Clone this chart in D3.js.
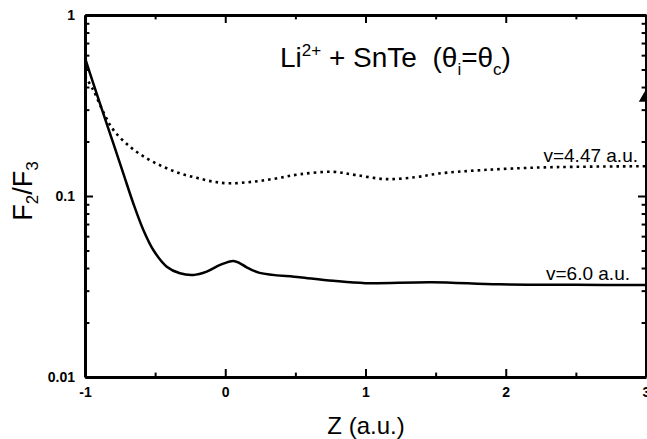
<!DOCTYPE html>
<html>
<head>
<meta charset="utf-8">
<script src="https://cdn.jsdelivr.net/npm/d3@7"></script>
<style>
  body { margin: 0; background: #fff; }
  svg { display: block; font-family: "Liberation Sans", Arial, Helvetica, sans-serif; }
</style>
</head>
<body>
<div id="chart"></div>
<script>
// v = 6.0 a.u. (solid)
var zSolid = [-1, -0.941, -0.87, -0.798, -0.727, -0.656, -0.584, -0.513, -0.417, -0.323, -0.228, -0.132, -0.037, 0.057, 0.105, 0.15, 0.245, 0.53, 0.77, 1.0, 1.47, 1.95, 2.5, 3.0];
var fSolid = [0.58, 0.419, 0.286, 0.1955, 0.1334, 0.0912, 0.0649, 0.0503, 0.0407, 0.0374, 0.0366, 0.0382, 0.0416, 0.0438, 0.0425, 0.0405, 0.0376, 0.0356, 0.034, 0.033, 0.0334, 0.0325, 0.0323, 0.0322];

// v = 4.47 a.u. (dotted)
var zDot = [-1, -0.941, -0.87, -0.798, -0.679, -0.56, -0.442, -0.323, -0.204, -0.085, 0.034, 0.2, 0.363, 0.536, 0.77, 0.93, 1.145, 1.357, 1.52, 1.83, 2.28, 3.0];
var fDot = [0.46, 0.385, 0.292, 0.232, 0.187, 0.1615, 0.145, 0.1334, 0.126, 0.120, 0.1175, 0.12, 0.125, 0.132, 0.136, 0.1306, 0.124, 0.127, 0.133, 0.139, 0.144, 0.146];

// single point (triangle)
var zPoint = [3.0];
var fPoint = [0.35];

var xMajor = [-1, 0, 1, 2, 3];
var xMinor = [-0.5, 0.5, 1.5, 2.5];
var yMajor = [0.01, 0.1, 1];
var yMinor = [0.02, 0.03, 0.04, 0.05, 0.06, 0.07, 0.08, 0.09,
              0.2, 0.3, 0.4, 0.5, 0.6, 0.7, 0.8, 0.9];

var width = 647, height = 439;
var mLeft = 85, mRight = 646, mTop = 15, mBottom = 377;

var x = d3.scaleLinear().domain([-1, 3]).range([mLeft, mRight]);
var y = d3.scaleLog().domain([0.01, 1]).range([mBottom, mTop]);

var svg = d3.select('#chart').append('svg')
    .attr('width', width)
    .attr('height', height);

function fmtY(d) { return yMajor.indexOf(d) >= 0 ? String(d) : ''; }
function fmtX(d) { return xMajor.indexOf(d) >= 0 ? String(d) : ''; }

function styleAxis(g, majors) {
  g.select('.domain').attr('stroke', '#000').attr('stroke-width', 3);
  g.selectAll('.tick line').attr('stroke', '#000').attr('stroke-width', 2);
  g.selectAll('.tick text')
      .attr('font-size', '14px')
      .attr('font-weight', 'bold')
      .attr('fill', '#000');
  g.selectAll('.tick').filter(function(d) { return majors.indexOf(d) < 0; })
      .select('line').each(function() {
        var l = d3.select(this);
        if (l.attr('x2') != null && +l.attr('x2') !== 0) l.attr('x2', +l.attr('x2') * 0.55);
        if (l.attr('y2') != null && +l.attr('y2') !== 0) l.attr('y2', +l.attr('y2') * 0.55);
      });
}

var yTicks = yMajor.concat(yMinor);
var xTicks = xMajor.concat(xMinor);

svg.append('g')
    .attr('transform', 'translate(' + mLeft + ',0)')
    .call(d3.axisLeft(y).tickValues(yTicks).tickFormat(fmtY).tickSize(-8).tickSizeOuter(0).tickPadding(10))
    .call(styleAxis, yMajor);

svg.append('g')
    .attr('transform', 'translate(' + mRight + ',0)')
    .call(d3.axisRight(y).tickValues(yTicks).tickFormat('').tickSize(-8).tickSizeOuter(0))
    .call(styleAxis, yMajor);

svg.append('g')
    .attr('transform', 'translate(0,' + mBottom + ')')
    .call(d3.axisBottom(x).tickValues(xTicks).tickFormat(fmtX).tickSize(-8).tickSizeOuter(0).tickPadding(10))
    .call(styleAxis, xMajor);

svg.append('g')
    .attr('transform', 'translate(0,' + mTop + ')')
    .call(d3.axisTop(x).tickValues(xTicks).tickFormat('').tickSize(-8).tickSizeOuter(0))
    .call(styleAxis, xMajor);

var line = d3.line()
    .x(function(d) { return x(d[0]); })
    .y(function(d) { return y(d[1]); })
    .curve(d3.curveCatmullRom.alpha(0.5));

svg.append('path')
    .datum(d3.zip(zSolid, fSolid))
    .attr('d', line)
    .attr('fill', 'none')
    .attr('stroke', '#000')
    .attr('stroke-width', 2.5);

svg.append('path')
    .datum(d3.zip(zDot, fDot))
    .attr('d', line)
    .attr('fill', 'none')
    .attr('stroke', '#000')
    .attr('stroke-width', 2.6)
    .attr('stroke-dasharray', '2.6,4');

svg.selectAll('.pt')
    .data(d3.zip(zPoint, fPoint))
    .enter().append('path')
    .attr('class', 'pt')
    .attr('transform', function(d) { return 'translate(' + x(d[0]) + ',' + y(d[1]) + ')'; })
    .attr('d', d3.symbol().type(d3.symbolTriangle).size(90))
    .attr('fill', '#000');

// curve labels
svg.append('text')
    .attr('x', 638).attr('y', 162)
    .attr('text-anchor', 'end')
    .attr('font-size', '19px')
    .text('v=4.47 a.u.');
svg.append('text')
    .attr('x', 630).attr('y', 280)
    .attr('text-anchor', 'end')
    .attr('font-size', '19px')
    .text('v=6.0 a.u.');

// title
var title = svg.append('text')
    .attr('x', 280).attr('y', 67)
    .attr('font-size', '28px');
title.append('tspan').text('Li');
title.append('tspan').attr('font-size', '17px').attr('dy', -11).text('2+');
title.append('tspan').attr('dy', 11).text('\u00A0+ SnTe\u00A0\u00A0(\u03B8');
title.append('tspan').attr('font-size', '17px').attr('dy', 8).text('i');
title.append('tspan').attr('dy', -8).text('=\u03B8');
title.append('tspan').attr('font-size', '17px').attr('dy', 8).text('c');
title.append('tspan').attr('dy', -8).text(')');

// axis titles
svg.append('text')
    .attr('x', 366).attr('y', 434)
    .attr('text-anchor', 'middle')
    .attr('font-size', '24px')
    .text('Z (a.u.)');

var yl = svg.append('text')
    .attr('transform', 'translate(32,191) rotate(-90)')
    .attr('text-anchor', 'middle')
    .attr('font-size', '27px');
yl.append('tspan').text('F');
yl.append('tspan').attr('font-size', '17px').attr('dy', 6).text('2');
yl.append('tspan').attr('dy', -6).text('/F');
yl.append('tspan').attr('font-size', '17px').attr('dy', 6).text('3');
</script>
</body>
</html>
